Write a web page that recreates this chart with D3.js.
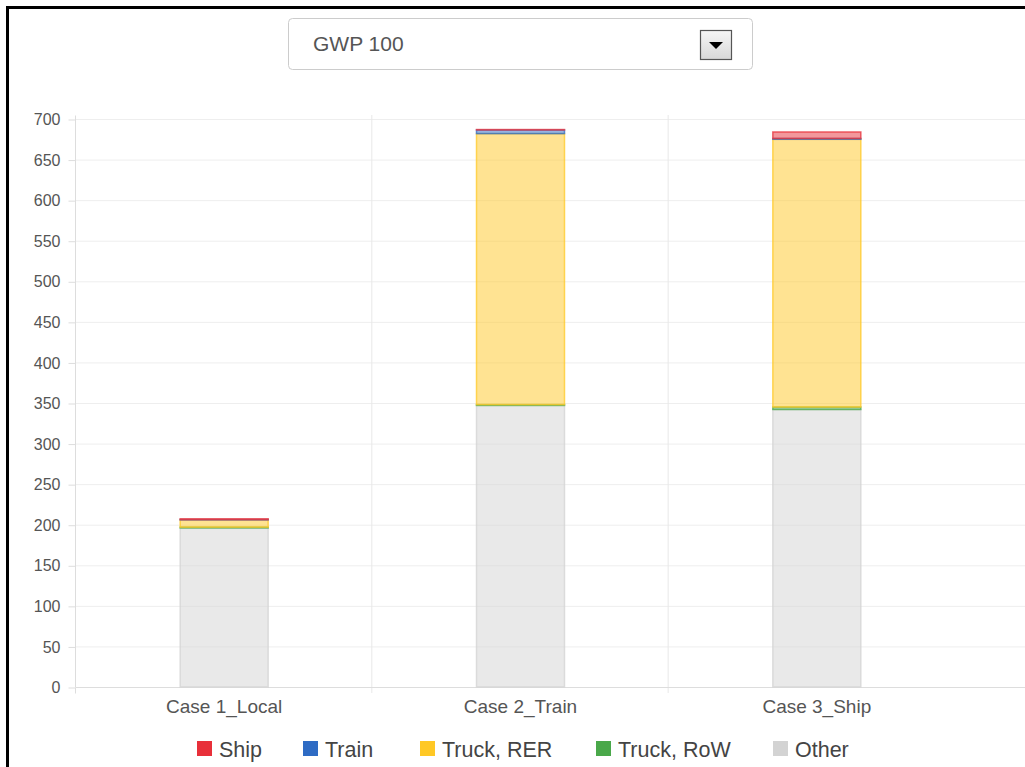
<!DOCTYPE html>
<html>
<head>
<meta charset="utf-8">
<script src="https://cdn.jsdelivr.net/npm/d3@7"></script>
<style>
  body { margin: 0; background: #fff; }
  svg { display: block; font-family: "Liberation Sans", Arial, sans-serif; }
</style>
</head>
<body>
<div id="chart"></div>
<script>
const categories = ["Case 1_Local", "Case 2_Train", "Case 3_Ship"];
const ship = [1, 0.5, 8];
const train = [0.3, 4.5, 1];
const truckRER = [9, 334, 330];
const truckRoW = [1, 1, 3];
const other = [196, 347, 342];
const yTicks = [0, 50, 100, 150, 200, 250, 300, 350, 400, 450, 500, 550, 600, 650, 700];

const legendKeys = ["Ship", "Train", "Truck, RER", "Truck, RoW", "Other"];
const stackKeys = ["Other", "Truck, RoW", "Truck, RER", "Train", "Ship"];
const z = d3.scaleOrdinal().domain(legendKeys)
    .range(["#e8303a", "#2e6bc4", "#ffc825", "#4aa84a", "#d3d3d3"]);

const W = 1025, H = 767;
const margin = {top: 119, left: 76, bottom: 80};
const plotRight = 965;

const rows = categories.map((c, i) => ({
    key: c,
    "Ship": ship[i],
    "Train": train[i],
    "Truck, RER": truckRER[i],
    "Truck, RoW": truckRoW[i],
    "Other": other[i]
}));

const svg = d3.select("#chart").append("svg")
    .attr("width", W).attr("height", H);

// frame edges of the screenshot
svg.append("rect").attr("x", 6).attr("y", 6).attr("width", 3).attr("height", H).attr("fill", "#000");
svg.append("rect").attr("x", 6).attr("y", 6).attr("width", W).attr("height", 3).attr("fill", "#000");

// dropdown
const dd = svg.append("g").attr("transform", "translate(288,18)");
dd.append("rect").attr("x", 0.5).attr("y", 0.5).attr("width", 464).attr("height", 51)
    .attr("rx", 4).attr("fill", "#fff").attr("stroke", "#ccc");
dd.append("text").attr("x", 25).attr("y", 33).attr("font-size", 21).attr("fill", "#555").text("GWP 100");
const defs = svg.append("defs");
const grad = defs.append("linearGradient").attr("id", "btn").attr("x1", 0).attr("y1", 0).attr("x2", 0).attr("y2", 1);
grad.append("stop").attr("offset", 0).attr("stop-color", "#f6f6f6");
grad.append("stop").attr("offset", 1).attr("stop-color", "#d8d8d8");
dd.append("rect").attr("x", 412.5).attr("y", 12.5).attr("width", 31).attr("height", 29)
    .attr("fill", "url(#btn)").attr("stroke", "#555").attr("stroke-width", 1.2);
dd.append("path").attr("d", "M421,24 L435,24 L428,31 Z").attr("fill", "#000");

const y = d3.scaleLinear().domain([0, 700]).range([687, margin.top]);
const x = d3.scaleBand().domain(categories).range([margin.left, plotRight]).padding(0);

// grid
svg.append("g").selectAll("line").data(yTicks).enter().append("line")
    .attr("x1", margin.left).attr("x2", W)
    .attr("y1", d => y(d) + 0.5).attr("y2", d => y(d) + 0.5)
    .attr("stroke", "#eee");
svg.append("g").selectAll("line").data(categories.slice(1)).enter().append("line")
    .attr("x1", d => x(d) - 0.5).attr("x2", d => x(d) - 0.5)
    .attr("y1", 115).attr("y2", 693)
    .attr("stroke", "#e8e8e8");

// y axis
const yAxis = svg.append("g").attr("transform", `translate(${margin.left - 0.5},0.5)`)
    .call(d3.axisLeft(y).tickValues(yTicks).tickSize(7).tickSizeOuter(0));
yAxis.select(".domain").attr("stroke", "#ddd").attr("d", `M0,${115}V${y(0)}`);
yAxis.selectAll(".tick line").attr("stroke", "#ddd");
yAxis.selectAll(".tick text").attr("font-size", 16).attr("fill", "#555").attr("x", -15)
    .attr("font-family", "Liberation Sans, Arial, sans-serif");

// x axis
const xAxis = svg.append("g").attr("transform", `translate(0,${y(0) + 0.5})`);
xAxis.append("line").attr("x1", margin.left).attr("x2", W).attr("stroke", "#ddd");
xAxis.append("line").attr("x1", margin.left - 0.5).attr("x2", margin.left - 0.5).attr("y1", 0).attr("y2", 6).attr("stroke", "#ddd");
xAxis.selectAll("text").data(categories).enter().append("text")
    .attr("x", d => x(d) + x.bandwidth() / 2).attr("y", 25)
    .attr("text-anchor", "middle").attr("font-size", 19).attr("fill", "#555")
    .text(d => d);

// bars
const barW = 88;
const series = d3.stack().keys(stackKeys)(rows);
svg.append("g").selectAll("g").data(series).enter().append("g")
    .attr("fill", d => z(d.key))
    .attr("stroke", d => z(d.key))
    .each(function (s) {
        d3.select(this).selectAll("rect").data(s).enter().append("rect")
            .attr("x", d => x(d.data.key) + x.bandwidth() / 2 - barW / 2)
            .attr("y", d => y(d[1]))
            .attr("width", barW)
            .attr("height", d => y(d[0]) - y(d[1]))
            .attr("fill-opacity", 0.5)
            .attr("stroke-width", 1.5)
            .attr("stroke-opacity", 0.75);
    });

// legend
const legendX = [197, 303, 420, 596, 773];
const legend = svg.append("g").selectAll("g").data(legendKeys).enter().append("g")
    .attr("transform", (d, i) => `translate(${legendX[i]},741)`);
legend.append("rect").attr("width", 15).attr("height", 15).attr("fill", z);
legend.append("text").attr("x", 22).attr("y", 8).attr("dy", "0.35em")
    .attr("font-size", 21.5).attr("fill", "#444").text(d => d);
</script>
</body>
</html>
